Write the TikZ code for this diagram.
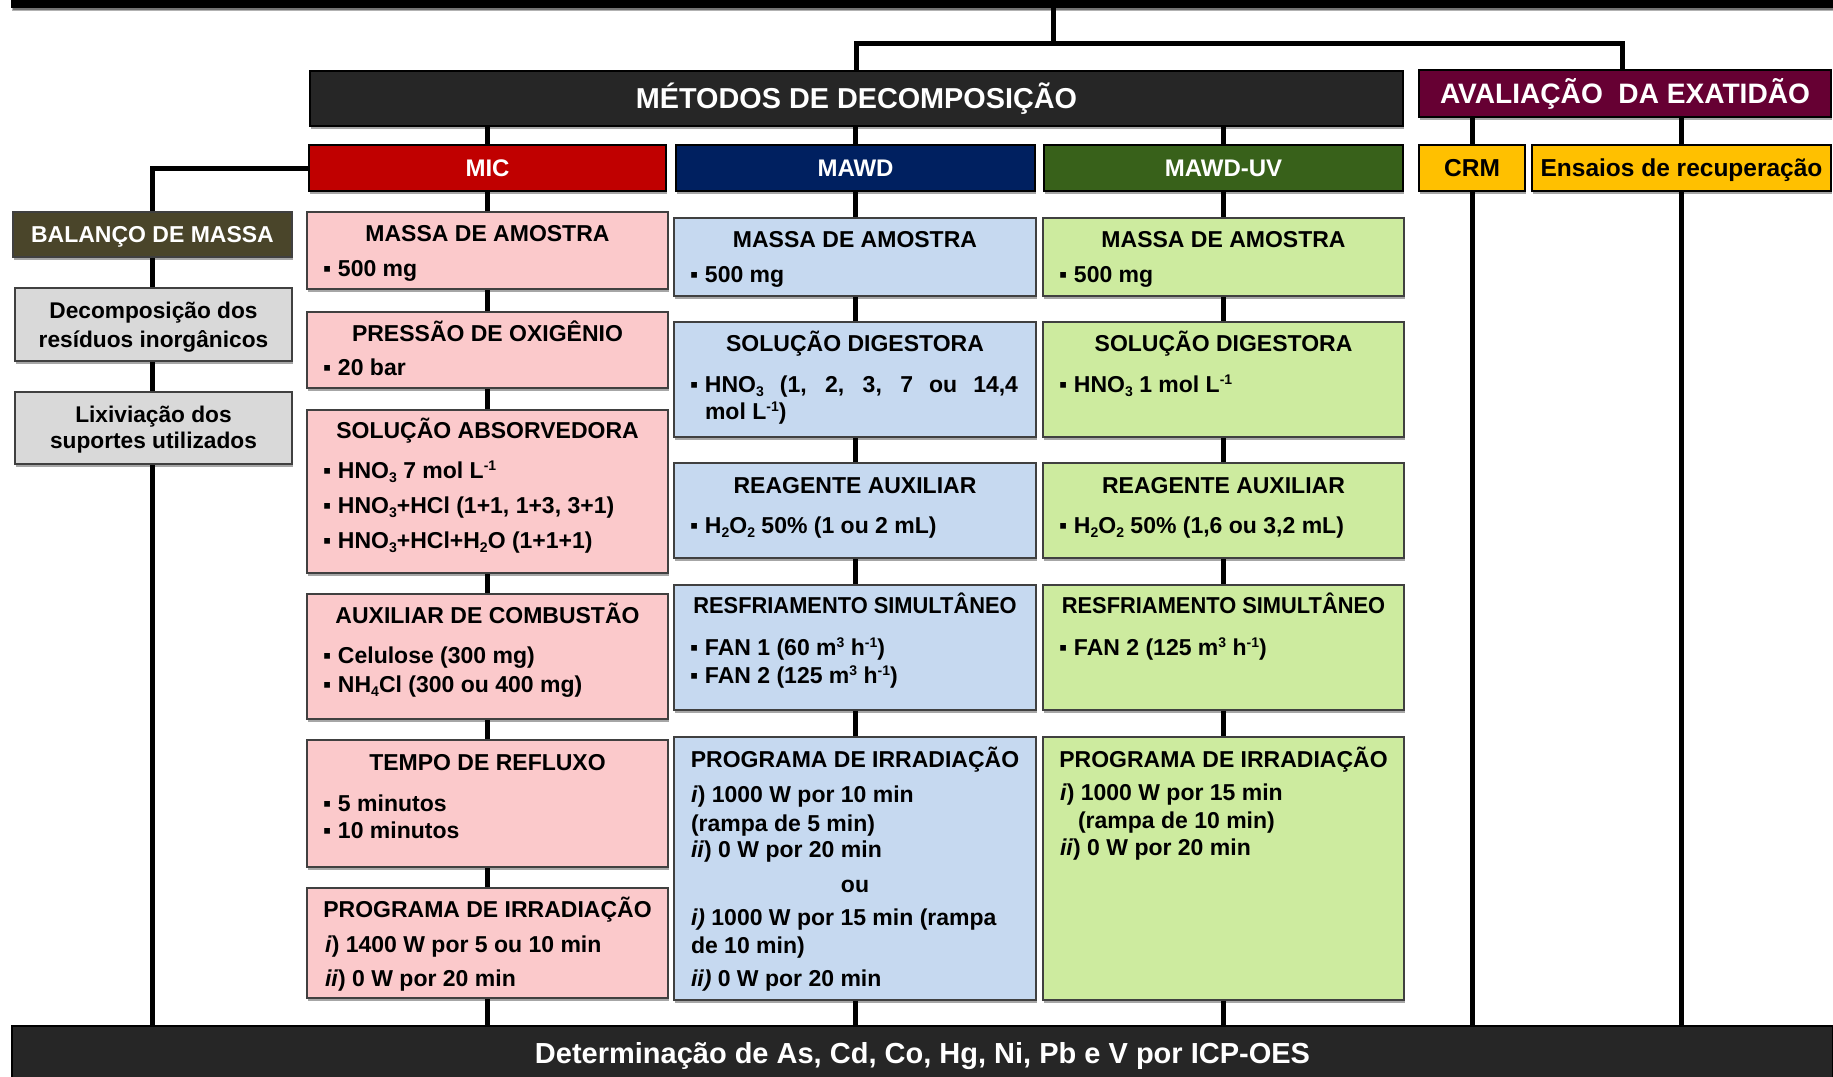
\documentclass[tikz,border=0pt]{standalone}
\usepackage{fontspec}
\setmainfont{Liberation Sans}
\usetikzlibrary{shadows,calc}
\pgfdeclarelayer{bg}
\pgfsetlayers{bg,main}
\definecolor{cPink}{RGB}{251,201,203}
\definecolor{cBlue}{RGB}{198,217,240}
\definecolor{cGreen}{RGB}{205,235,159}
\definecolor{cGray}{RGB}{217,217,217}
\definecolor{cOlive}{RGB}{74,69,42}
\definecolor{cRed}{RGB}{192,0,0}
\definecolor{cNavy}{RGB}{0,32,96}
\definecolor{cDGreen}{RGB}{56,97,26}
\definecolor{cDark}{RGB}{38,38,38}
\definecolor{cWine}{RGB}{102,0,51}
\definecolor{cGold}{RGB}{255,192,0}
\definecolor{cBord}{RGB}{64,64,64}
\newcommand\mysb[1]{\raisebox{-0.2em}{\fontsize{14}{14}\selectfont #1}}
\newcommand\mysp[1]{\raisebox{0.32em}{\fontsize{14}{14}\selectfont #1}}
\newcommand\bul{\makebox[15pt][l]{▪}}
\begin{document}
\begin{tikzpicture}[x=1pt,y=-1pt,
  every node/.style={inner sep=0pt, outer sep=0pt},
  conn/.style={line width=5pt, draw=black},
  shad/.style={drop shadow={shadow xshift=1.2pt, shadow yshift=-2.5pt, opacity=0.35, fill=black}},
  lbox/.style={draw=cBord, line width=2.8pt, shad, rectangle},
  hbox/.style={draw=black, line width=2.8pt, shad, rectangle},
  pk/.style={lbox, fill=cPink, minimum width=361pt},
  bu/.style={lbox, fill=cBlue, minimum width=362pt},
  gr/.style={lbox, fill=cGreen, minimum width=361pt},
  gy/.style={lbox, fill=cGray, minimum width=277pt},
  ttl/.style={anchor=base, font=\bfseries\fontsize{23}{27}\selectfont},
  bl/.style={anchor=base west, font=\bfseries\fontsize{23}{27}\selectfont},
  gl/.style={anchor=base, font=\bfseries\fontsize{22.7}{27}\selectfont},
]
\useasboundingbox (0,0) rectangle (1833,1076);
\clip (0,0) rectangle (1833,1076);

% bars
\node[hbox, fill=black, minimum width=1821pt, minimum height=54pt,
  drop shadow={shadow xshift=0pt, shadow yshift=-4pt, opacity=0.3, fill=black}] (topbar) at (922.5,-20) {};
\node[hbox, fill=cDark, minimum width=1821pt, minimum height=53.6pt, text=white,
  font=\bfseries\fontsize{29}{30}\selectfont, text height=20.8pt, text depth=0pt] (bottom) at (922.5,1052.8)
  {Determinação de As, Cd, Co, Hg, Ni, Pb e V por ICP-OES};

% headers
\node[hbox, fill=cDark, minimum width=1093pt, minimum height=55pt, text=white,
  font=\bfseries\fontsize{28.8}{30}\selectfont, text height=20.6pt, text depth=0pt] (metodos) at (856.5,98.5)
  {MÉTODOS DE DECOMPOSIÇÃO};
\node[hbox, fill=cWine, minimum width=412pt, minimum height=47pt, text=white,
  font=\bfseries\fontsize{28.1}{30}\selectfont, text height=20.1pt, text depth=0pt] (aval) at (1625,93.5)
  {AVALIAÇÃO\ \ DA EXATIDÃO};
\node[hbox, fill=cRed, minimum width=357pt, minimum height=46pt, text=white,
  font=\bfseries\fontsize{24}{26}\selectfont, text height=17.2pt, text depth=0pt] (mic) at (487.5,168) {MIC};
\node[hbox, fill=cNavy, minimum width=359pt, minimum height=46pt, text=white,
  font=\bfseries\fontsize{24}{26}\selectfont, text height=17.2pt, text depth=0pt] (mawd) at (855.5,168) {MAWD};
\node[hbox, fill=cDGreen, minimum width=359pt, minimum height=46pt, text=white,
  font=\bfseries\fontsize{24}{26}\selectfont, text height=17.2pt, text depth=0pt] (mawduv) at (1223.5,168) {MAWD-UV};
\node[hbox, fill=cGold, minimum width=106pt, minimum height=46pt, text=black,
  font=\bfseries\fontsize{24.5}{26}\selectfont, text height=17.5pt, text depth=0pt] (crm) at (1472,168) {CRM};
\node[hbox, fill=cGold, minimum width=299pt, minimum height=46pt, text=black,
  font=\bfseries\fontsize{24.5}{26}\selectfont, text height=17.5pt, text depth=0pt] (ens) at (1681.5,168) {Ensaios de recuperação};

% left column
\node[lbox, fill=cOlive, minimum width=279pt, minimum height=45pt, text=white,
  font=\bfseries\fontsize{23}{26}\selectfont, text height=16.5pt, text depth=0pt] (balanco) at (152.5,234.5) {BALANÇO DE MASSA};
\node[gy, minimum height=73pt] (decomp) at (153.5,324.5) {};
\node[gy, minimum height=72pt] (lixiv) at (153.5,428) {};
\node[gl] (deca) at (153.5,318) {Decomposição dos};
\node[gl] (decb) at (153.5,347) {resíduos inorgânicos};
\node[gl] (lixa) at (153.5,422) {Lixiviação dos};
\node[gl] (lixb) at (153.5,448) {suportes utilizados};

% MIC column
\node[pk, minimum height=77pt] (p1) at (487.5,250.5) {};
\node[pk, minimum height=76pt] (p2) at (487.5,350) {};
\node[pk, minimum height=163pt] (p3) at (487.5,491.5) {};
\node[pk, minimum height=125pt] (p4) at (487.5,656.5) {};
\node[pk, minimum height=127pt] (p5) at (487.5,803.5) {};
\node[pk, minimum height=110pt] (p6) at (487.5,943) {};
\node[ttl] (p1t) at (487.5,241.7) {MASSA DE AMOSTRA};
\node[bl] (p1a) at (323,276.7) {\bul 500 mg};
\node[ttl] (p2t) at (487.5,341) {PRESSÃO DE OXIGÊNIO};
\node[bl] (p2a) at (323,375) {\bul 20 bar};
\node[ttl] (p3t) at (487.5,438) {SOLUÇÃO ABSORVEDORA};
\node[bl] (p3a) at (323,478) {\bul HNO\mysb{3} 7 mol L\mysp{-1}};
\node[bl] (p3b) at (323,513) {\bul HNO\mysb{3}+HCl (1+1, 1+3, 3+1)};
\node[bl] (p3c) at (323,548) {\bul HNO\mysb{3}+HCl+H\mysb{2}O (1+1+1)};
\node[ttl] (p4t) at (487.5,623) {AUXILIAR DE COMBUSTÃO};
\node[bl] (p4a) at (323,663) {\bul Celulose (300 mg)};
\node[bl] (p4b) at (323,692) {\bul NH\mysb{4}Cl (300 ou 400 mg)};
\node[ttl] (p5t) at (487.5,770) {TEMPO DE REFLUXO};
\node[bl] (p5a) at (323,811) {\bul 5 minutos};
\node[bl] (p5b) at (323,838) {\bul 10 minutos};
\node[ttl] (p6t) at (487.5,917) {PROGRAMA DE IRRADIAÇÃO};
\node[bl] (p6a) at (325,952) {\textit{i}) 1400 W por 5 ou 10 min};
\node[bl] (p6b) at (325,986) {\textit{ii}) 0 W por 20 min};

% MAWD column
\node[bu, minimum height=78pt] (b1) at (855,257) {};
\node[bu, minimum height=115pt] (b2) at (855,379.5) {};
\node[bu, minimum height=95pt] (b3) at (855,510.5) {};
\node[bu, minimum height=125pt] (b4) at (855,647.5) {};
\node[bu, minimum height=263pt] (b5) at (855,868.5) {};
\node[ttl] (b1t) at (855,247) {MASSA DE AMOSTRA};
\node[bl] (b1a) at (690,282) {\bul 500 mg};
\node[ttl] (b2t) at (855,351) {SOLUÇÃO DIGESTORA};
\node[bl] (b2a) at (690,392) {\bul\makebox[313pt][s]{HNO\mysb{3} (1, 2, 3, 7 ou 14,4}};
\node[bl] (b2b) at (705,419) {mol L\mysp{-1})};
\node[ttl] (b3t) at (855,493) {REAGENTE AUXILIAR};
\node[bl] (b3a) at (690,533) {\bul H\mysb{2}O\mysb{2} 50\% (1 ou 2 mL)};
\node[ttl] (b4t) at (855,613) {\scalebox{0.95}[1]{RESFRIAMENTO SIMULTÂNEO}};
\node[bl] (b4a) at (690,655) {\bul FAN 1 (60 m\mysp{3} h\mysp{-1})};
\node[bl] (b4b) at (690,683) {\bul FAN 2 (125 m\mysp{3} h\mysp{-1})};
\node[ttl] (b5t) at (855,767) {PROGRAMA DE IRRADIAÇÃO};
\node[bl] (b5a) at (691,802) {\textit{i}) 1000 W por 10 min};
\node[bl] (b5b) at (691,831) {(rampa de 5 min)};
\node[bl] (b5c) at (691,857) {\textit{ii}) 0 W por 20 min};
\node[ttl] (b5d) at (855,892) {ou};
\node[bl] (b5e) at (691,925) {\textit{i)} 1000 W por 15 min (rampa};
\node[bl] (b5f) at (691,953) {de 10 min)};
\node[bl] (b5g) at (691,986) {\textit{ii)} 0 W por 20 min};

% MAWD-UV column
\node[gr, minimum height=78pt] (g1) at (1223.5,257) {};
\node[gr, minimum height=115pt] (g2) at (1223.5,379.5) {};
\node[gr, minimum height=95pt] (g3) at (1223.5,510.5) {};
\node[gr, minimum height=125pt] (g4) at (1223.5,647.5) {};
\node[gr, minimum height=263pt] (g5) at (1223.5,868.5) {};
\node[ttl] (g1t) at (1223.5,247) {MASSA DE AMOSTRA};
\node[bl] (g1a) at (1059,282) {\bul 500 mg};
\node[ttl] (g2t) at (1223.5,351) {SOLUÇÃO DIGESTORA};
\node[bl] (g2a) at (1059,392) {\bul HNO\mysb{3} 1 mol L\mysp{-1}};
\node[ttl] (g3t) at (1223.5,493) {REAGENTE AUXILIAR};
\node[bl] (g3a) at (1059,533) {\bul H\mysb{2}O\mysb{2} 50\% (1,6 ou 3,2 mL)};
\node[ttl] (g4t) at (1223.5,613) {\scalebox{0.95}[1]{RESFRIAMENTO SIMULTÂNEO}};
\node[bl] (g4a) at (1059,655) {\bul FAN 2 (125 m\mysp{3} h\mysp{-1})};
\node[ttl] (g5t) at (1223.5,767) {PROGRAMA DE IRRADIAÇÃO};
\node[bl] (g5a) at (1060,800) {\textit{i}) 1000 W por 15 min};
\node[bl] (g5b) at (1078,828) {(rampa de 10 min)};
\node[bl] (g5c) at (1060,855) {\textit{ii}) 0 W por 20 min};

\coordinate (hub) at (1053,43);
\coordinate (avalin) at ($(aval.north)+(-3,0)$);

\begin{pgfonlayer}{bg}
\draw[conn] (topbar.south -| hub) -- (hub);
\draw[conn, line join=miter] (metodos.north) |- (hub) -| (avalin);
\draw[conn] (metodos.south -| mic) -- (mic.north);
\draw[conn] (metodos.south -| mawd) -- (mawd.north);
\draw[conn] (metodos.south -| mawduv) -- (mawduv.north);
\draw[conn] (aval.south -| crm) -- (crm.north);
\draw[conn] (aval.south -| ens) -- (ens.north);
\draw[conn] (crm.south) -- (bottom.north -| crm);
\draw[conn] (ens.south) -- (bottom.north -| ens);
\draw[conn, line join=miter] (mic.west) -| (balanco.north);
\draw[conn] (balanco.south) -- (decomp.north -| balanco);
\draw[conn] (decomp.south -| balanco) -- (lixiv.north -| balanco);
\draw[conn] (lixiv.south -| balanco) -- (bottom.north -| balanco);
\draw[conn] (mic.south) -- (p1.north);
\draw[conn] (p1.south) -- (p2.north);
\draw[conn] (p2.south) -- (p3.north);
\draw[conn] (p3.south) -- (p4.north);
\draw[conn] (p4.south) -- (p5.north);
\draw[conn] (p5.south) -- (p6.north);
\draw[conn] (p6.south) -- (bottom.north -| p6);
\draw[conn] (mawd.south -| b1) -- (b1.north);
\draw[conn] (b1.south) -- (b2.north);
\draw[conn] (b2.south) -- (b3.north);
\draw[conn] (b3.south) -- (b4.north);
\draw[conn] (b4.south) -- (b5.north);
\draw[conn] (b5.south) -- (bottom.north -| b5);
\draw[conn] (mawduv.south) -- (g1.north);
\draw[conn] (g1.south) -- (g2.north);
\draw[conn] (g2.south) -- (g3.north);
\draw[conn] (g3.south) -- (g4.north);
\draw[conn] (g4.south) -- (g5.north);
\draw[conn] (g5.south) -- (bottom.north -| g5);
\end{pgfonlayer}
\end{tikzpicture}
\end{document}
